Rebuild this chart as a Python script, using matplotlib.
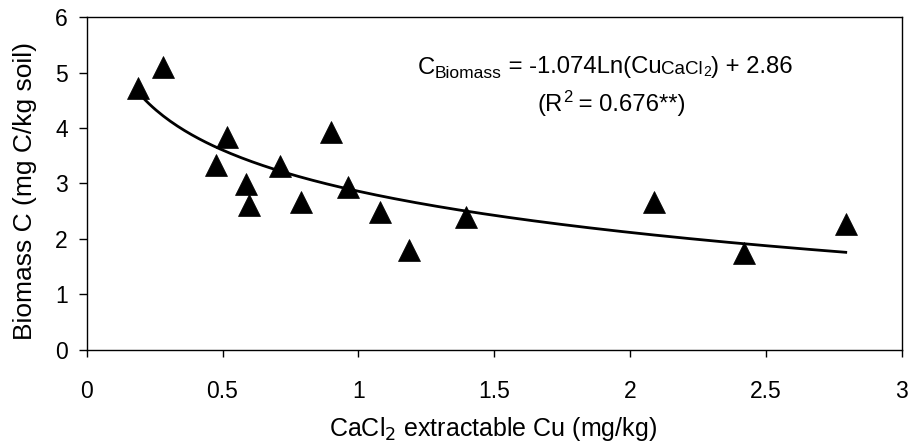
import matplotlib
matplotlib.use("Agg")
import matplotlib.pyplot as plt
import matplotlib.transforms as mtransforms
import numpy as np

plt.rcParams['font.family'] = ['Liberation Sans', 'DejaVu Sans']

# Data
cu_cacl2 = [0.19, 0.28, 0.515, 0.475, 0.588, 0.598, 0.711, 0.787, 0.899, 0.963,
            1.078, 1.186, 1.397, 2.09, 2.42, 2.794]
biomass_c = [4.73, 5.11, 3.84, 3.34, 2.99, 2.62, 3.32, 2.66, 3.93, 2.94,
             2.48, 1.80, 2.39, 2.67, 1.74, 2.26]

# Logarithmic trendline coefficients (as printed on the chart)
fit_slope = -1.074
fit_intercept = 2.86

x_ticks = [0, 0.5, 1, 1.5, 2, 2.5, 3]
x_tick_labels = ['0', '0.5', '1', '1.5', '2', '2.5', '3']
y_ticks = [0, 1, 2, 3, 4, 5, 6]

W, H = 908, 444
fig = plt.figure(figsize=(W / 100, H / 100), dpi=100)
ax = fig.add_axes([86.7 / W, 1 - 349.5 / H, (901.7 - 86.7) / W, (349.5 - 17.5) / H])

ax.plot(cu_cacl2, biomass_c, linestyle='none', marker='^', markersize=16,
        color='black', markeredgewidth=0.5, zorder=3)

xs = np.linspace(min(cu_cacl2), max(cu_cacl2), 200)
ax.plot(xs, fit_slope * np.log(xs) + fit_intercept, color='black', lw=2, zorder=2)

ax.set_xlim(0, 3)
ax.set_ylim(0, 6)
ax.set_xticks(x_ticks)
ax.set_xticklabels(x_tick_labels)
ax.set_yticks(y_ticks)
ax.tick_params(axis='x', direction='out', length=5, width=1, labelsize=16.5, pad=17)
ax.tick_params(axis='y', direction='out', length=5.5, width=1, labelsize=16.5, pad=8)
for s in ax.spines.values():
    s.set_linewidth(1)
    s.set_color('black')

fig.text(493 / W, 1 - 436 / H, 'CaCl$_2$ extractable Cu (mg/kg)', fontsize=18,
         ha='center', va='baseline')
fig.text(25 / W, 1 - 190.7 / H, 'Biomass C (mg C/kg soil)', fontsize=19,
         ha='center', va='center', rotation=90)


def rich_text(pieces, x_px, y_px, center=False):
    """Draw a line of text pieces (text, size, dy_px) placed one after another."""
    renderer = fig.canvas.get_renderer()
    artists = []
    offset = 0.0
    for txt, size, dy in pieces:
        tr = mtransforms.offset_copy(fig.transFigure, fig=fig, x=offset, y=dy, units='dots')
        t = fig.text(x_px / W, 1 - y_px / H, txt, fontsize=size, ha='left',
                     va='baseline', transform=tr)
        w = t.get_window_extent(renderer=renderer).width
        offset += w
        artists.append((t, dy))
    if center:
        shift = -offset / 2
        for t, dy in artists:
            tr = t.get_transform()
            t.set_transform(mtransforms.offset_copy(tr, fig=fig, x=shift, y=0, units='dots'))


rich_text([('C', 17.2, 0), ('Biomass', 12.5, -5), (' = -1.074Ln(Cu', 17.2, 0),
           ('CaCl', 13.5, 0), ('2', 10, -3), (') + 2.86', 17.2, 0)], 417.5, 73.5)
rich_text([('(R', 17.2, 0), ('2', 12, 8), (' = 0.676**)', 17.2, 0)], 611.5, 110.5,
          center=True)

fig.savefig('out.png', dpi=100)
